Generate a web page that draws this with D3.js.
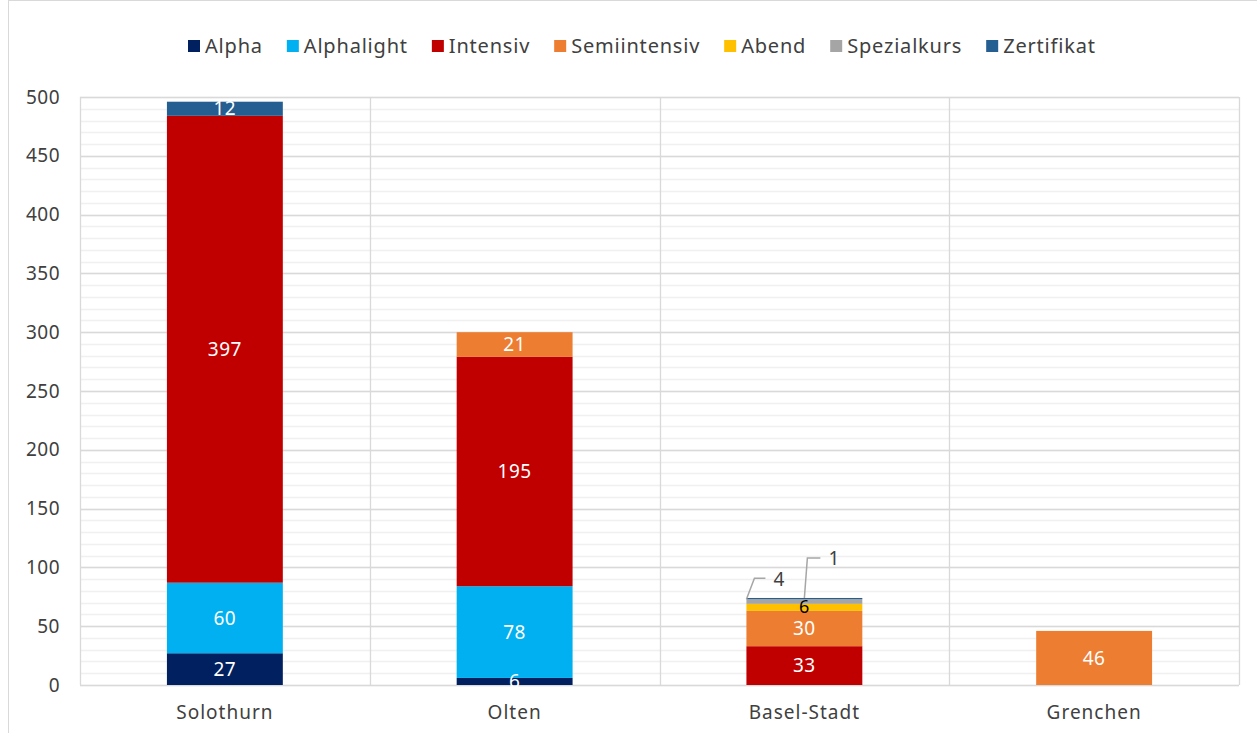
<!DOCTYPE html>
<html><head><meta charset="utf-8">
<script src="https://cdn.jsdelivr.net/npm/d3@7"></script>
<style>body{margin:0;background:#fff}svg{display:block}text{font-family:"Noto Sans","Open Sans",sans-serif}</style>
</head><body><svg id="c" width="1257" height="733"></svg>
<script>
const categories = ["Solothurn","Olten","Basel-Stadt","Grenchen"];
const seriesNames = ["Alpha","Alphalight","Intensiv","Semiintensiv","Abend","Spezialkurs","Zertifikat"];
const seriesColors = ["#002060","#00B0F0","#C00000","#ED7D31","#FFC000","#A5A5A5","#255E91"];
const alpha        = [27, 6, 0, 0];
const alphalight   = [60, 78, 0, 0];
const intensiv     = [397, 195, 33, 0];
const semiintensiv = [0, 21, 30, 46];
const abend        = [0, 0, 6, 0];
const spezialkurs  = [0, 0, 4, 0];
const zertifikat   = [12, 0, 1, 0];
const yTicks = [0,50,100,150,200,250,300,350,400,450,500];

const seriesVals = [alpha, alphalight, intensiv, semiintensiv, abend, spezialkurs, zertifikat];
const rows = categories.map((c,i)=>{const r={cat:c}; seriesNames.forEach((s,j)=>r[s]=seriesVals[j][i]); return r;});
const stack = d3.stack().keys(seriesNames)(rows);

const svg = d3.select("#c");
const L=80, R=1239, T=97, B=685;
const x = d3.scaleBand().domain(categories).range([L,R]).paddingInner(0).paddingOuter(0);
const y = d3.scaleLinear().domain([0,500]).range([B,T]);

svg.append("rect").attr("x",8.5).attr("y",0.5).attr("width",1257).attr("height",740).attr("fill","none").attr("stroke","#d9d9d9");

const g = svg.append("g");
g.selectAll(".mn").data(d3.range(0,501,10)).join("line")
 .attr("x1",L).attr("x2",R).attr("y1",d=>Math.round(y(d))+0.5).attr("y2",d=>Math.round(y(d))+0.5)
 .attr("stroke","#f0f0f0").attr("stroke-width",1.5);
g.selectAll(".mj").data(yTicks).join("line")
 .attr("x1",L).attr("x2",R).attr("y1",d=>Math.round(y(d))+0.5).attr("y2",d=>Math.round(y(d))+0.5)
 .attr("stroke","#d9d9d9").attr("stroke-width",1.3);
g.selectAll(".vs").data(categories.map(c=>x(c)).concat([R])).join("line")
 .attr("x1",d=>Math.round(d)+0.5).attr("x2",d=>Math.round(d)+0.5).attr("y1",T).attr("y2",B)
 .attr("stroke","#d9d9d9").attr("stroke-width",1.3);

svg.append("g").selectAll("text").data(yTicks).join("text")
 .attr("x",60).attr("y",d=>y(d)).attr("dy","0.35em").attr("text-anchor","end")
 .attr("font-size",19).attr("letter-spacing",0.5).attr("fill","#404040").text(d=>d);

svg.append("g").selectAll("text").data(categories).join("text")
 .attr("x",d=>x(d)+x.bandwidth()/2).attr("y",719).attr("text-anchor","middle")
 .attr("font-size",19).attr("letter-spacing",1).attr("fill","#404040").text(d=>d);

const bw = x.bandwidth()*0.4;
const bx = c => x(c)+x.bandwidth()/2-bw/2;

stack.forEach((s,si)=>{
  svg.append("g").selectAll("rect").data(s.filter(d=>d[1]-d[0]>0)).join("rect")
   .attr("x",d=>bx(d.data.cat)).attr("width",bw)
   .attr("y",d=>y(d[1])).attr("height",d=>y(d[0])-y(d[1]))
   .attr("fill",seriesColors[si]);
});

stack.forEach((s,si)=>{
  s.forEach(d=>{
    const v=d[1]-d[0]; if(v<=0) return;
    const cx = bx(d.data.cat)+bw/2, cy=(y(d[0])+y(d[1]))/2;
    const name = seriesNames[si];
    if(d.data.cat==="Basel-Stadt" && name==="Spezialkurs"){
      const x0=bx(d.data.cat), y0=y(d[1]);
      svg.append("polyline").attr("points",`${x0},${y0} ${x0+8},${y0-21} ${x0+19},${y0-21}`)
        .attr("fill","none").attr("stroke","#a6a6a6").attr("stroke-width",1.5);
      svg.append("text").attr("x",x0+27).attr("y",y0-20).attr("dy","0.35em").attr("font-size",19).attr("fill","#404040").text(v);
      return;
    }
    if(d.data.cat==="Basel-Stadt" && name==="Zertifikat"){
      const x0=cx, y0=y(d[1]);
      svg.append("polyline").attr("points",`${x0},${y0} ${x0+3},${y0-40} ${x0+16},${y0-40}`)
        .attr("fill","none").attr("stroke","#a6a6a6").attr("stroke-width",1.5);
      svg.append("text").attr("x",x0+24).attr("y",y0-40).attr("dy","0.35em").attr("font-size",19).attr("fill","#404040").text(v);
      return;
    }
    svg.append("text").attr("x",cx).attr("y",cy).attr("dy",name==="Abend"?"0.3em":"0.35em").attr("text-anchor","middle")
      .attr("font-size",name==="Abend"?18:19).attr("letter-spacing",0.5).attr("fill", name==="Abend"?"#000":"#fff").text(v);
  });
});

const lg = svg.append("g");
let lx = 188;
seriesNames.forEach((n,i)=>{
  lg.append("rect").attr("x",lx).attr("y",40).attr("width",12).attr("height",12).attr("fill",seriesColors[i]);
  const t = lg.append("text").attr("x",lx+17).attr("y",46).attr("dy","0.35em").attr("font-size",20).attr("letter-spacing",0.8).attr("fill","#404040").text(n);
  lx += 17 + t.node().getComputedTextLength() + 24;
});
</script></body></html>
